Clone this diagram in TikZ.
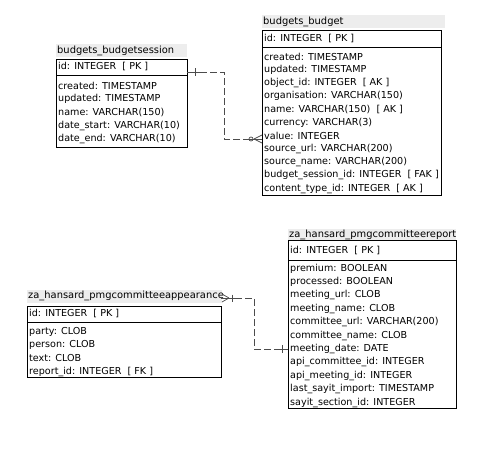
\documentclass[tikz,border=0pt]{standalone}
\usepackage{fontspec}
\setmainfont{DejaVu Sans}
\begin{document}
\begin{tikzpicture}[x=1pt,y=-1pt,
  box/.style={draw, line width=0.8pt, anchor=north west, inner sep=0pt, outer sep=0pt},
  band/.style={fill=black!7, draw=none, anchor=north west, inner sep=0pt, outer sep=0pt},
  ttl/.style={anchor=west, inner sep=0pt, font=\fontsize{9.9}{12}\selectfont},
  fld/.style={anchor=west, inner sep=0pt, font=\fontsize{9.6}{12}\selectfont},
  conn/.style={draw=black!70, line width=0.7pt, dash pattern=on 7pt off 3pt},
  ermark/.style={draw=black!70, line width=0.7pt}]
\useasboundingbox (0,0) rectangle (490,451);
\fill[white] (0,0) rectangle (490,451);

% ---------- budgets_budgetsession ----------
\node[band, minimum width=131pt, minimum height=13pt] (sband) at (56,44) {};
\node[ttl] (st) at (57,50.5) {budgets\_budgetsession};
\node[box, minimum width=131pt, minimum height=88pt] (s) at (56,59) {};
\draw[line width=0.8pt] ([yshift=-16pt]s.north west) -- ([yshift=-16pt]s.north east);
\node[fld] (s0) at (58,66.5) {id: INTEGER \ [ PK ]};
\node[fld] (s1) at (58,86) {created: TIMESTAMP};
\node[fld] (s2) at (58,99.3) {updated: TIMESTAMP};
\node[fld] (s3) at (58,112.6) {name: VARCHAR(150)};
\node[fld] (s4) at (58,125.9) {date\_start: VARCHAR(10)};
\node[fld] (s5) at (58,139.2) {date\_end: VARCHAR(10)};

% ---------- budgets_budget ----------
\node[band, minimum width=183pt, minimum height=13pt] (bband) at (262,15) {};
\node[ttl] (bt) at (263,21.5) {budgets\_budget};
\node[box, minimum width=179pt, minimum height=165pt] (b) at (262,30) {};
\draw[line width=0.8pt] ([yshift=-17pt]b.north west) -- ([yshift=-17pt]b.north east);
\node[fld] (b0) at (264,38) {id: INTEGER \ [ PK ]};
\node[fld] (b1) at (264,56.5) {created: TIMESTAMP};
\node[fld] (b2) at (264,69.7) {updated: TIMESTAMP};
\node[fld] (b3) at (264,82.9) {object\_id: INTEGER \ [ AK ]};
\node[fld] (b4) at (264,96.1) {organisation: VARCHAR(150)};
\node[fld] (b5) at (264,109.3) {name: VARCHAR(150) \ [ AK ]};
\node[fld] (b6) at (264,122.5) {currency: VARCHAR(3)};
\node[fld] (b7) at (264,135.7) {value: INTEGER};
\node[fld] (b8) at (264,148.9) {source\_url: VARCHAR(200)};
\node[fld] (b9) at (264,162.1) {source\_name: VARCHAR(200)};
\node[fld] (b10) at (264,175.3) {budget\_session\_id: INTEGER \ [ FAK ]};
\node[fld] (b11) at (264,188.5) {content\_type\_id: INTEGER \ [ AK ]};

% ---------- za_hansard_pmgcommitteeappearance ----------
\node[band, minimum width=195pt, minimum height=13pt] (aband) at (27,289.5) {};
\node[ttl] (at) at (28,296) {za\_hansard\_pmgcommitteeappearance};
\node[box, minimum width=194pt, minimum height=71pt] (a) at (27,306) {};
\draw[line width=0.8pt] ([yshift=-16pt]a.north west) -- ([yshift=-16pt]a.north east);
\node[fld] (a0) at (29,313.5) {id: INTEGER \ [ PK ]};
\node[fld] (a1) at (29,332) {party: CLOB};
\node[fld] (a2) at (29,345.2) {person: CLOB};
\node[fld] (a3) at (29,358.4) {text: CLOB};
\node[fld] (a4) at (29,371.6) {report\_id: INTEGER \ [ FK ]};

% ---------- za_hansard_pmgcommitteereport ----------
\node[band, minimum width=168pt, minimum height=12pt] (rband) at (288,228.5) {};
\node[ttl] (rt) at (289,234.5) {za\_hansard\_pmgcommitteereport};
\node[box, minimum width=168pt, minimum height=168pt] (r) at (288,240) {};
\draw[line width=0.8pt] ([yshift=-20pt]r.north west) -- ([yshift=-20pt]r.north east);
\node[fld] (r0) at (290,250) {id: INTEGER \ [ PK ]};
\node[fld] (r1) at (290,268.5) {premium: BOOLEAN};
\node[fld] (r2) at (290,281.9) {processed: BOOLEAN};
\node[fld] (r3) at (290,295.3) {meeting\_url: CLOB};
\node[fld] (r4) at (290,308.7) {meeting\_name: CLOB};
\node[fld] (r5) at (290,322.1) {committee\_url: VARCHAR(200)};
\node[fld] (r6) at (290,335.5) {committee\_name: CLOB};
\node[fld] (r7) at (290,348.9) {meeting\_date: DATE};
\node[fld] (r8) at (290,362.3) {api\_committee\_id: INTEGER};
\node[fld] (r9) at (290,375.7) {api\_meeting\_id: INTEGER};
\node[fld] (r10) at (290,389.1) {last\_sayit\_import: TIMESTAMP};
\node[fld] (r11) at (290,402.5) {sayit\_section\_id: INTEGER};

% ---------- connector budget_session ----------
\coordinate (p1) at (s.east |- 0,72);
\coordinate (p2) at (b.west |- 0,139);
\draw[ermark] (p1) -- ++(13,0);
\draw[conn] ([xshift=13pt]p1) -- (224,72) -- (224,139) -- ([xshift=-14pt]p2);
\draw[ermark] ([xshift=-14pt]p2) -- (p2);
\draw[ermark] ([xshift=8pt]p1) ++(0,-4) -- ++(0,8);
\draw[ermark] ([xshift=-8pt]p2) -- ([yshift=-4pt]p2);
\draw[ermark] ([xshift=-8pt]p2) -- ([yshift=4pt]p2);
\draw[ermark] ([xshift=-11pt]p2) circle (2pt);

% ---------- connector report ----------
\coordinate (q1) at (a.east |- 0,298);
\coordinate (q2) at (r.west |- 0,349);
\draw[ermark] (q1) -- ++(14,0);
\draw[conn] ([xshift=14pt]q1) -- (254,298) -- (254,349) -- ([xshift=-12pt]q2);
\draw[ermark] ([xshift=-12pt]q2) -- (q2);
\draw[ermark] ([xshift=8pt]q1) -- ([xshift=1pt,yshift=-4pt]q1);
\draw[ermark] ([xshift=8pt]q1) -- ([xshift=1pt,yshift=4pt]q1);
\draw[ermark] ([xshift=11pt]q1) ++(0,-3.5) -- ++(0,7);
\draw[ermark] ([xshift=-6pt]q2) ++(0,-4) -- ++(0,8);
\end{tikzpicture}
\end{document}
